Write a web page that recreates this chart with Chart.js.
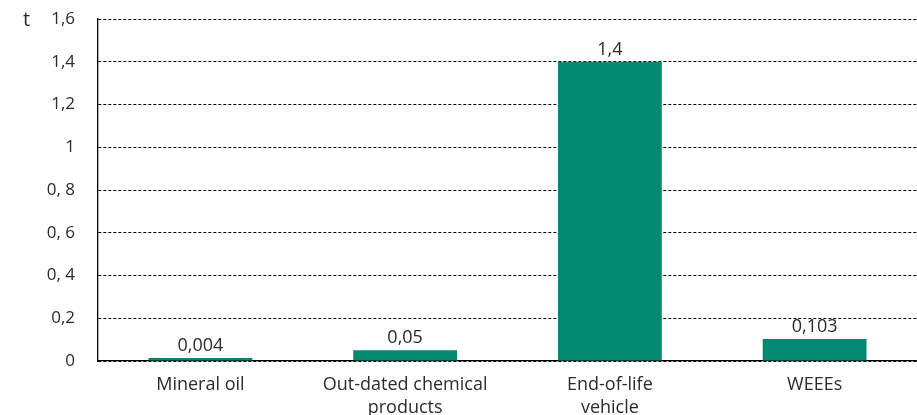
<!DOCTYPE html>
<html>
<head>
<meta charset="utf-8">
<script src="https://cdn.jsdelivr.net/npm/chart.js@4.4.1/dist/chart.umd.min.js"></script>
<style>
  html, body { margin: 0; padding: 0; background: #ffffff; }
  #wrap { width: 917px; height: 415px; }
</style>
</head>
<body>
<div id="wrap"><canvas id="c" width="917" height="415"></canvas></div>
<script>
// Waste quantities by category (tonnes)
const categories = [["Mineral oil"], ["Out-dated chemical", "products"], ["End-of-life", "vehicle"], ["WEEEs"]];
const values = [0.004, 0.05, 1.4, 0.103];
const valueLabels = ["0,004", "0,05", "1,4", "0,103"];
const yTicks = [0, 0.2, 0.4, 0.6, 0.8, 1, 1.2, 1.4, 1.6];
const yTickLabels = ["0", "0,2", "0, 4", "0, 6", "0, 8", "1", "1,2", "1,4", "1,6"];
const unitLabel = "t";

const FONT = "'Open Sans', Lato, sans-serif";
const TEXT = "#2b2b2b";

// Value captions above each bar plus the unit mark beside the axis
const captions = {
  id: "captions",
  afterDatasetsDraw(chart) {
    const ctx = chart.ctx;
    const meta = chart.getDatasetMeta(0);
    ctx.save();
    ctx.font = "18px " + FONT;
    ctx.fillStyle = TEXT;
    ctx.textAlign = "center";
    ctx.textBaseline = "alphabetic";
    meta.data.forEach((bar, i) => {
      ctx.fillText(valueLabels[i], bar.x, bar.y - 7);
    });
    const y = chart.scales.y;
    ctx.textAlign = "left";
    ctx.textBaseline = "middle";
    ctx.font = "20px " + FONT;
    ctx.fillText(unitLabel, 23, y.getPixelForValue(yTicks[yTicks.length - 1]) + 1);
    ctx.restore();
  }
};

new Chart(document.getElementById("c"), {
  type: "bar",
  data: {
    labels: categories,
    datasets: [{
      data: values,
      backgroundColor: "#028a70",
      borderWidth: 0,
      minBarLength: 3,
      categoryPercentage: 1,
      barPercentage: 0.507
    }]
  },
  options: {
    responsive: false,
    animation: false,
    events: [],
    layout: { padding: { top: 19, right: 0, left: 0, bottom: 0 } },
    plugins: { legend: { display: false }, tooltip: { enabled: false } },
    scales: {
      x: {
        grid: { display: false, drawTicks: false },
        border: { display: true, color: "#000000", width: 1.3 },
        ticks: {
          color: TEXT,
          font: { family: FONT, size: 18, lineHeight: 1.25 },
          padding: 13,
          maxRotation: 0,
          autoSkip: false
        },
        afterFit(scale) { scale.height = 54; }
      },
      y: {
        min: 0,
        max: 1.6,
        afterBuildTicks(scale) { scale.ticks = yTicks.map(v => ({ value: v })); },
        grid: {
          color: "#000000",
          lineWidth: 1,
          drawTicks: true,
          tickLength: 23,
          tickColor: "rgba(0,0,0,0)"
        },
        border: { display: true, color: "#000000", width: 1.3, dash: [3, 2] },
        ticks: {
          color: TEXT,
          font: { family: FONT, size: 17 },
          padding: 0,
          callback(v) {
            const i = yTicks.findIndex(t => Math.abs(t - v) < 1e-9);
            return i >= 0 ? yTickLabels[i] : "";
          }
        },
        afterFit(scale) { scale.width = 98; }
      }
    }
  },
  plugins: [captions]
});
</script>
</body>
</html>
